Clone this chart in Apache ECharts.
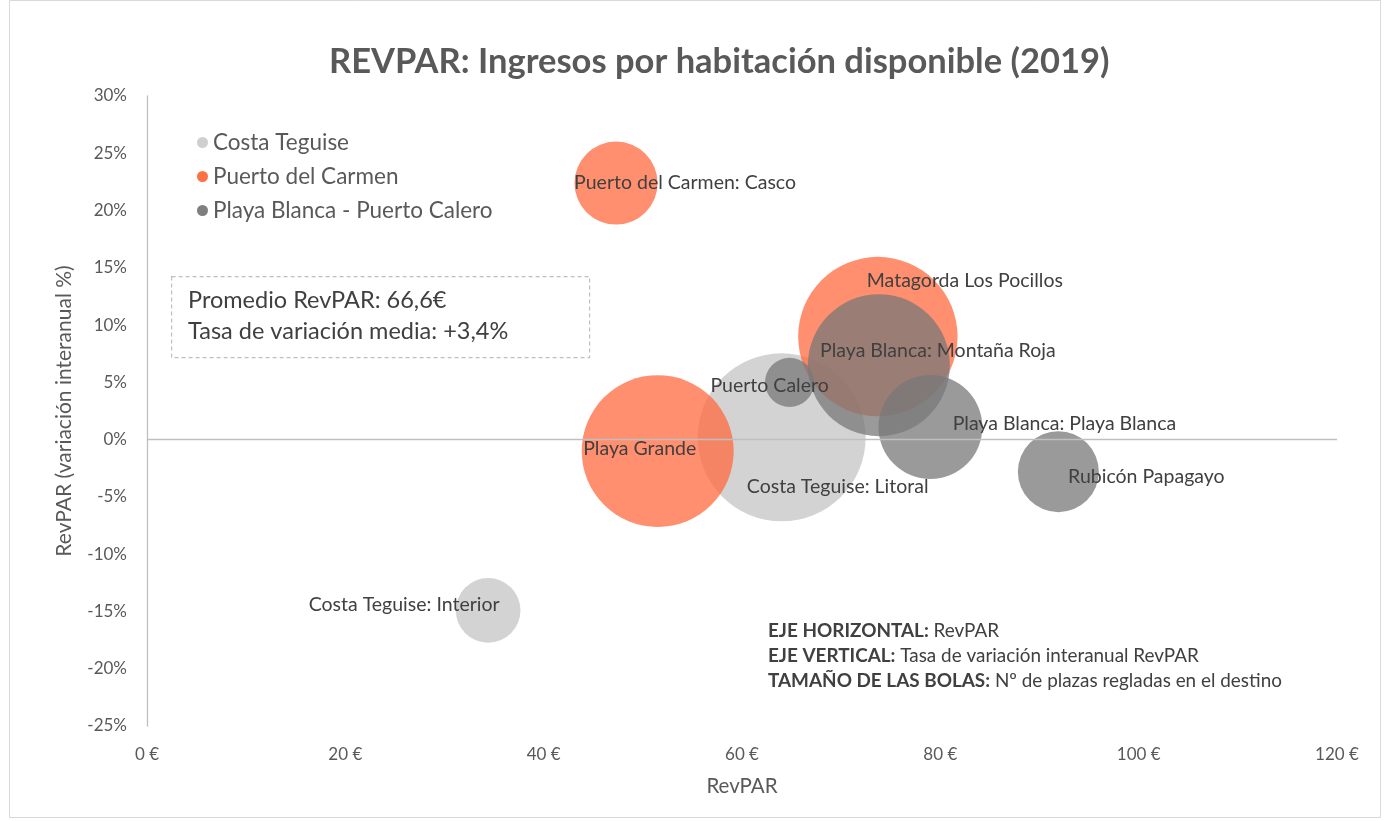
<!DOCTYPE html>
<html>
<head>
<meta charset="utf-8">
<script src="https://cdn.jsdelivr.net/npm/echarts@6/dist/echarts.min.js"></script>
<style>html,body{margin:0;padding:0;background:#fff;}#c{width:1384px;height:821px;}</style>
</head>
<body>
<div id="c"></div>
<script>
// ---- data ----
const groups = ['Costa Teguise', 'Puerto del Carmen', 'Playa Blanca - Puerto Calero'];
const names = ['Costa Teguise: Litoral', 'Costa Teguise: Interior', 'Puerto del Carmen: Casco', 'Playa Grande', 'Matagorda Los Pocillos', 'Playa Blanca: Montaña Roja', 'Puerto Calero', 'Playa Blanca: Playa Blanca', 'Rubicón Papagayo'];
const groupOf = [0, 0, 1, 1, 1, 2, 2, 2, 2];
const revpar = [64.0, 34.4, 47.3, 51.5, 73.7, 73.8, 64.8, 79.0, 91.9];
const variacion = [0.2, -14.9, 22.4, -1.0, 9.0, 6.5, 5.0, 1.1, -2.8];
const plazas = [28000, 4150, 6850, 22900, 25200, 20000, 2400, 10700, 6500];
const xTicks = [0, 20, 40, 60, 80, 100, 120];
const yTicks = [-25, -20, -15, -10, -5, 0, 5, 10, 15, 20, 25, 30];

// ---- layout / style ----
const labelOffsets = [[56, 49], [-84, -6], [69, 0], [-18, -2], [87, -56], [59, -14], [-20, 3], [134, -3], [88, 5]];
const seriesColors = ['rgba(205,203,204,0.85)', 'rgba(255,105,62,0.75)', 'rgba(120,120,120,0.75)'];
const legendColors = ['#D0CECE', '#FF7043', '#7F7F7F'];
const FONT = 'Lato, "Open Sans", sans-serif';
const maxPlazas = Math.max(...plazas);
const maxDiameter = 168;

const series = groups.map((g, gi) => {
  const data = [];
  names.forEach((n, i) => {
    if (groupOf[i] !== gi) return;
    data.push({
      name: n,
      value: [revpar[i], variacion[i], plazas[i]],
      label: { offset: labelOffsets[i] }
    });
  });
  return {
    name: g,
    type: 'scatter',
    data: data,
    symbolSize: v => maxDiameter * Math.sqrt(v[2] / maxPlazas),
    itemStyle: { color: seriesColors[gi], opacity: 1 },
    label: {
      show: true, position: 'inside', formatter: p => p.name,
      color: '#404040', fontSize: 19.5, fontFamily: FONT
    },
    emphasis: { disabled: true },
    z: 2 + gi,
    markLine: gi === 0 ? {
      silent: true, symbol: 'none', label: { show: false },
      lineStyle: { color: '#BFBFBF', width: 1.3, type: 'solid' },
      data: [{ yAxis: 0 }], animation: false
    } : undefined
  };
});

const chart = echarts.init(document.getElementById('c'));
chart.setOption({
  animation: false,
  backgroundColor: '#fff',
  title: {
    text: 'REVPAR: Ingresos por habitación disponible (2019)',
    left: 324, top: 39,
    textStyle: { fontSize: 34.5, fontWeight: 'bold', color: '#595959', fontFamily: FONT }
  },
  legend: {
    orient: 'vertical', left: 192, top: 126,
    icon: 'circle', itemWidth: 11, itemHeight: 11, itemGap: 11,
    textStyle: { fontSize: 22.5, color: '#595959', fontFamily: FONT },
    data: groups.map((g, i) => ({ name: g, itemStyle: { color: legendColors[i], opacity: 1 } }))
  },
  grid: { left: 147, right: 47, top: 96, bottom: 95 },
  xAxis: {
    type: 'value', min: xTicks[0], max: xTicks[xTicks.length - 1], interval: 20,
    name: 'RevPAR', nameLocation: 'middle', nameGap: 50,
    nameTextStyle: { fontSize: 20.5, color: '#595959', fontFamily: FONT },
    axisLine: { show: false }, axisTick: { show: false }, splitLine: { show: false },
    axisLabel: { formatter: '{value} €', fontSize: 17, color: '#595959', fontFamily: FONT, margin: 20 }
  },
  yAxis: {
    type: 'value', min: yTicks[0], max: yTicks[yTicks.length - 1], interval: 5,
    name: 'RevPAR (variación interanual %)', nameLocation: 'middle', nameGap: 72,
    nameTextStyle: { fontSize: 21, color: '#595959', fontFamily: FONT },
    axisLine: { show: true, onZero: false, lineStyle: { color: '#BFBFBF', width: 1.3 } },
    axisTick: { show: false }, splitLine: { show: false },
    axisLabel: { formatter: '{value}%', fontSize: 17, color: '#595959', fontFamily: FONT, margin: 20 }
  },
  graphic: [
    { type: 'rect', left: 7, top: -2, shape: { width: 1371, height: 817 }, style: { fill: 'none', stroke: '#D9D9D9', lineWidth: 1 }, silent: true },
    { type: 'rect', left: 171, top: 276, shape: { width: 418, height: 81 }, style: { fill: '#fff', stroke: '#BFBFBF', lineWidth: 1.2, lineDash: [4, 3] }, z: 1 },
    { type: 'text', left: 188, top: 288, style: { text: 'Promedio RevPAR: 66,6€', fontSize: 23.5, fill: '#404040', fontFamily: FONT }, z: 2 },
    { type: 'text', left: 188, top: 319, style: { text: 'Tasa de variación media: +3,4%', fontSize: 23.5, fill: '#404040', fontFamily: FONT }, z: 2 },
    { type: 'text', left: 768, top: 621, style: {
        rich: {
          b: { fontSize: 18.9, fontWeight: 'bold', fill: '#404040', fontFamily: FONT, lineHeight: 25 },
          n: { fontSize: 18.9, fill: '#404040', fontFamily: FONT, lineHeight: 25 }
        },
        text: '{b|EJE HORIZONTAL:}{n| RevPAR}\n{b|EJE VERTICAL:}{n| Tasa de variación interanual RevPAR}\n{b|TAMAÑO DE LAS BOLAS:}{n| Nº de plazas regladas en el destino}'
      }, z: 2 }
  ],
  series: series
});
</script>
</body>
</html>
